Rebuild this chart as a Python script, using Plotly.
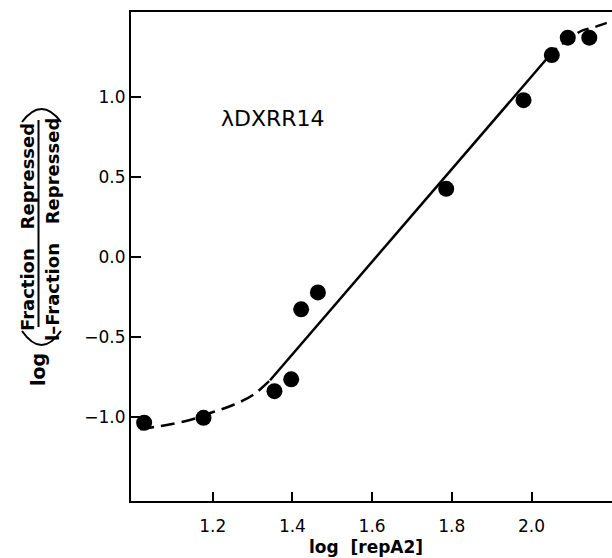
import plotly.graph_objects as go

# ---- data ----
log_rep = [1.028, 1.177, 1.355, 1.397, 1.422, 1.464, 1.786, 1.980, 2.051, 2.091, 2.145]
log_ratio = [-1.038, -1.007, -0.840, -0.766, -0.328, -0.222, 0.427, 0.982, 1.264, 1.373, 1.373]

fit_x = [1.344, 2.042]
fit_y = [-0.772, 1.252]

low_curve_x = [1.018, 1.050, 1.085, 1.143, 1.201, 1.251, 1.301, 1.344]
low_curve_y = [-1.078, -1.066, -1.052, -1.021, -0.971, -0.927, -0.864, -0.772]

high_curve_x = [2.042, 2.067, 2.085, 2.113, 2.128, 2.159, 2.189, 2.205]
high_curve_y = [1.252, 1.316, 1.347, 1.398, 1.419, 1.440, 1.466, 1.478]

x_ticks = [1.2, 1.4, 1.6, 1.8, 2.0]
x_tick_labels = ["1.2", "1.4", "1.6", "1.8", "2.0"]
y_ticks = [-1.0, -0.5, 0.0, 0.5, 1.0]
y_tick_labels = ["\u22121.0", "\u22120.5", "0.0", "0.5", "1.0"]

# ---- layout geometry ----
W, H = 612, 558
ML, MR, MT, MB = 131, 0, 12, 57
PW, PH = W - ML - MR, H - MT - MB

def px(xp):
    return (xp - ML) / PW

def py(yp):
    return (H - MB - yp) / PH

FONT = "DejaVu Sans"

fig = go.Figure()
fig.add_trace(go.Scatter(x=low_curve_x, y=low_curve_y, mode="lines",
                         line=dict(color="black", width=2.5, dash="14px,7px", shape="spline"),
                         hoverinfo="skip", showlegend=False))
fig.add_trace(go.Scatter(x=fit_x, y=fit_y, mode="lines",
                         line=dict(color="black", width=2.5),
                         hoverinfo="skip", showlegend=False))
fig.add_trace(go.Scatter(x=high_curve_x, y=high_curve_y, mode="lines",
                         line=dict(color="black", width=2.5, dash="12px,7px", shape="spline"),
                         hoverinfo="skip", showlegend=False))
fig.add_trace(go.Scatter(x=log_rep, y=log_ratio, mode="markers",
                         marker=dict(color="black", size=16, line=dict(width=0)),
                         showlegend=False))

axis_common = dict(showgrid=False, zeroline=False, showline=True, linecolor="black",
                   linewidth=2, ticks="inside", tickcolor="black", tickwidth=2,
                   tickfont=dict(family=FONT, size=17, color="black"))

fig.update_xaxes(range=[0.995, 2.202], tickmode="array", tickvals=x_ticks,
                 ticktext=x_tick_labels, ticklen=9, mirror=True, ticklabelstandoff=9,
                 **axis_common)
fig.update_yaxes(range=[-1.528, 1.534], tickmode="array", tickvals=y_ticks,
                 ticktext=y_tick_labels, ticklen=10, ticklabelstandoff=0, **axis_common)

nb = "\u00a0"
common_ann = dict(showarrow=False, xanchor="center", yanchor="middle")
annotations = [
    dict(text="\u03bbDXRR14", x=1.351, y=0.870, xref="x", yref="y",
         font=dict(family=FONT, size=22, color="black"), **common_ann),
    dict(text="<b>log" + nb * 2 + "[repA2]</b>", x=px(366), y=py(558), xref="paper", yref="paper",
         showarrow=False, xanchor="center", yanchor="bottom", borderpad=0,
         font=dict(family=FONT, size=17, color="black")),
    dict(text="<b>log</b>", x=px(38), y=py(370), xref="paper", yref="paper", textangle=-90,
         font=dict(family=FONT, size=19, color="black"), **common_ann),
    dict(text="<b>Fraction" + nb * 3 + "Repressed</b>", x=px(27), y=py(227), xref="paper", yref="paper",
         textangle=-90, font=dict(family=FONT, size=18, color="black"), **common_ann),
    dict(text="<b>l\u2013Fraction" + nb * 3 + "Repressed</b>", x=px(52), y=py(230), xref="paper", yref="paper",
         textangle=-90, font=dict(family=FONT, size=18, color="black"), **common_ann),
]

shapes = [
    dict(type="line", xref="paper", yref="paper", x0=px(38.5), x1=px(38.5), y0=py(120), y1=py(327),
         line=dict(color="black", width=2)),
    dict(type="path", xref="paper", yref="paper",
         path=f"M {px(22)},{py(122)} Q {px(41.5)},{py(96)} {px(61)},{py(122)}",
         line=dict(color="black", width=2)),
    dict(type="path", xref="paper", yref="paper",
         path=f"M {px(22)},{py(331)} Q {px(41.5)},{py(359)} {px(61)},{py(331)}",
         line=dict(color="black", width=2)),
]

fig.update_layout(width=W, height=H, margin=dict(l=ML, r=MR, t=MT, b=MB, pad=0),
                  plot_bgcolor="white", paper_bgcolor="white",
                  annotations=annotations, shapes=shapes, showlegend=False,
                  font=dict(family=FONT, color="black"))

fig.write_html("out.html")
